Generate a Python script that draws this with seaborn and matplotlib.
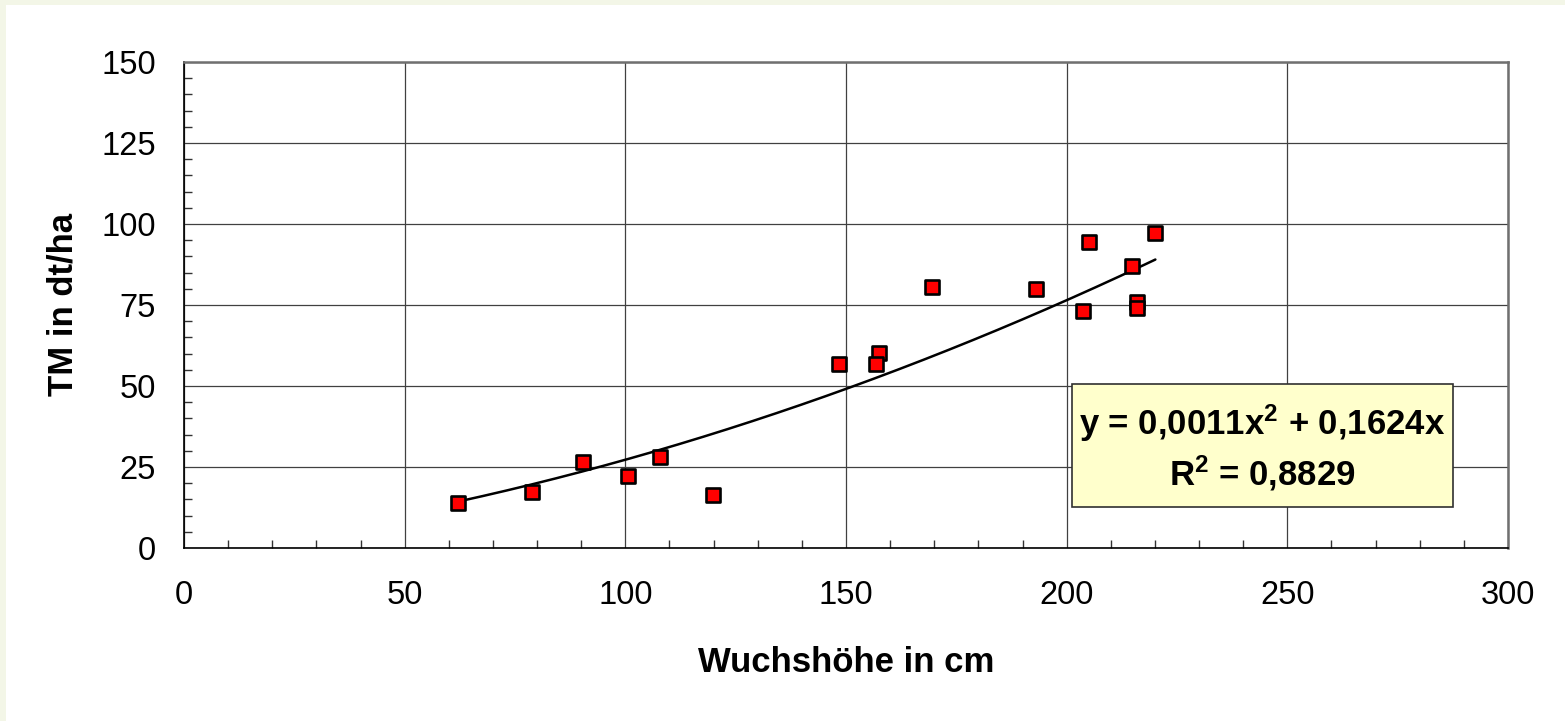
import matplotlib
matplotlib.use('Agg')
import matplotlib.pyplot as plt
import numpy as np
import pandas as pd
import seaborn as sns

from matplotlib import patches
from matplotlib.ticker import MultipleLocator

# Wuchshöhe (cm) vs. Trockenmasse (dt/ha)
hoehe = [62.0, 78.9, 90.3, 100.6, 107.9, 119.9, 148.4, 157.4, 156.8, 169.5,
         193.0, 205.1, 203.8, 214.8, 216.0, 216.0, 220.1]
tm = [14.0, 17.2, 26.4, 22.2, 28.0, 16.4, 56.8, 60.1, 56.7, 80.5,
      79.9, 94.5, 73.2, 87.1, 76.0, 74.0, 97.1]

# polynomial trend (2nd order, through origin) as given in the chart
trend_a = 0.0011
trend_b = 0.1624
trend_label = 'y = 0,0011x$^{2}$ + 0,1624x\nR$^{2}$ = 0,8829'

df = pd.DataFrame({'hoehe': hoehe, 'tm': tm})

sns.set_theme(style='white')
plt.rcParams['font.family'] = ['Liberation Sans', 'DejaVu Sans']
plt.rcParams['text.color'] = 'black'
plt.rcParams['axes.labelcolor'] = 'black'
plt.rcParams['xtick.color'] = 'black'
plt.rcParams['ytick.color'] = 'black'
plt.rcParams['mathtext.fontset'] = 'custom'
plt.rcParams['mathtext.rm'] = 'Liberation Sans:bold'
plt.rcParams['mathtext.it'] = 'Liberation Sans:bold'
plt.rcParams['mathtext.bf'] = 'Liberation Sans:bold'

fig = plt.figure(figsize=(15.65, 7.21), dpi=100)
ax = fig.add_axes([184 / 1565, 1 - 548 / 721, 1324 / 1565, 486 / 721])

# pale frame strips on the left and top edge
fig.patches.append(patches.Rectangle((0, 0), 6 / 1565, 1, transform=fig.transFigure,
                                     facecolor='#f3f6e7', edgecolor='none', zorder=0))
fig.patches.append(patches.Rectangle((0, 1 - 5 / 721), 1, 5 / 721, transform=fig.transFigure,
                                     facecolor='#f3f6e7', edgecolor='none', zorder=0))

# trend line
xs = np.linspace(min(hoehe), max(hoehe), 200)
trend = pd.DataFrame({'x': xs, 'y': trend_a * xs ** 2 + trend_b * xs})
sns.lineplot(data=trend, x='x', y='y', color='black', linewidth=1.8, ax=ax, zorder=3)

sns.scatterplot(data=df, x='hoehe', y='tm', marker='s', s=115, color='#ff0000',
                edgecolor='black', linewidth=1.9, ax=ax, zorder=4)

ax.set_xlim(0, 300)
ax.set_ylim(0, 150)
ax.xaxis.set_major_locator(MultipleLocator(50))
ax.xaxis.set_minor_locator(MultipleLocator(10))
ax.yaxis.set_major_locator(MultipleLocator(25))
ax.yaxis.set_minor_locator(MultipleLocator(5))

ax.grid(True, which='major', color='#404040', linewidth=0.9)
ax.set_axisbelow(True)

ax.tick_params(axis='both', which='major', direction='out', length=8, width=1,
               color='black', labelsize=23.5, labelcolor='black')
ax.tick_params(axis='x', which='major', pad=15)
ax.tick_params(axis='y', which='major', pad=12)
ax.tick_params(axis='both', which='minor', direction='in', length=6, width=1,
               color='#333333')
ax.tick_params(axis='x', which='minor', bottom=True)
ax.tick_params(axis='y', which='minor', left=True)

for side in ['left', 'bottom']:
    ax.spines[side].set_color('black')
    ax.spines[side].set_linewidth(1.2)
for side in ['top', 'right']:
    ax.spines[side].set_color('#707070')
    ax.spines[side].set_linewidth(1.8)

ax.set_xlabel('Wuchshöhe in cm', fontsize=25, fontweight='bold', va='center')
ax.xaxis.set_label_coords(0.5, (548 - 663) / 486)
ax.set_ylabel('TM in dt/ha', fontsize=25, fontweight='bold', va='center')
ax.yaxis.set_label_coords((63 - 184) / 1324, 0.5)

# equation box
bx0, bx1 = (1072 - 184) / 1324, (1453 - 184) / 1324
by0, by1 = (548 - 507) / 486, (548 - 384) / 486
ax.add_patch(patches.Rectangle((bx0, by0), bx1 - bx0, by1 - by0, transform=ax.transAxes,
                               facecolor='#ffffcc', edgecolor='#303030', linewidth=1.2,
                               zorder=5))
ax.text((bx0 + bx1) / 2, (by0 + by1) / 2 - 0.004, trend_label, transform=ax.transAxes,
        ha='center', va='center', multialignment='center', fontsize=25,
        fontweight='bold', linespacing=1.3, zorder=6)

fig.savefig('out.png', dpi=100, facecolor='white')
